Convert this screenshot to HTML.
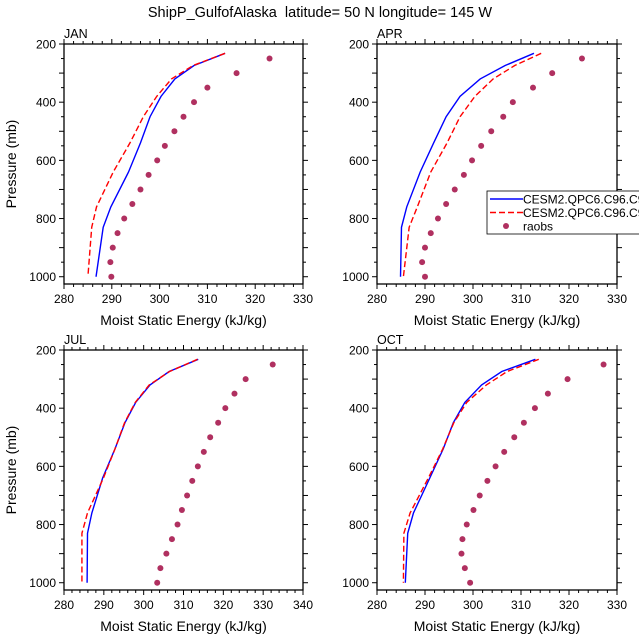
<!DOCTYPE html>
<html><head><meta charset="utf-8">
<style>
html,body{margin:0;padding:0;background:#fff;}
svg{display:block;font-family:"Liberation Sans",Arial,sans-serif;}
</style></head>
<body>
<svg id="c" width="639" height="639" viewBox="0 0 639 639">
<text x="320" y="17" text-anchor="middle" font-size="14.5" style="white-space:pre">ShipP_GulfofAlaska  latitude= 50 N longitude= 145 W</text>
</svg>
<script>
const modelP = [232, 274, 320, 380, 450, 540, 640, 760, 830, 1000];
const obsP = [250,300,350,400,450,500,550,600,650,700,750,800,850,900,950,1000];
const janBlue = [313.7,307.2,303.2,300.3,298,296,293.5,289.8,288.2,286.7];
const janRed = [313.7,307,302.5,299.4,296.6,293.8,290.3,286.8,285.8,285];
const janObs = [323,316.1,310,307.2,305,303.1,301.1,299.5,297.7,296,294.3,292.6,291.2,290.2,289.7,289.9];
const aprBlue = [312.7,306.7,301.5,297.3,294.4,291.8,289,286.2,285.1,284.9];
const aprRed = [314.2,308.7,304.2,300.4,297.3,294.6,291.2,288.4,286.7,285.5];
const aprObs = [322.7,316.5,312.5,308.3,306.3,303.8,301.7,299.8,298.1,296.2,294.4,292.7,291.2,290,289.4,290];
const julBlue = [313.7,306.4,301.6,298,295.3,292.8,289.7,287,285.9,285.8];
const julRed = [313.5,306.5,301.4,297.9,295.2,292.8,289.9,285.9,284.5,284.5];
const julObs = [332.4,325.6,322.8,320.5,318.7,316.7,315.1,313.6,312.2,310.9,309.6,308.5,307.1,305.7,304.2,303.4];
const octBlue = [313,306,301.8,298.3,295.9,293.8,291,287.6,286.4,285.9];
const octRed = [313.7,307.1,302.8,298.7,296,293.7,290.7,286.9,285.6,285.5];
const octObs = [327.2,319.7,315.6,312.9,310.6,308.6,306.5,304.7,303,301.4,300.1,298.7,297.8,297.6,298.3,299.4];
const pTicks = [200,400,600,800,1000];
const xTicks1 = [280,290,300,310,320,330];
const xTicks2 = [280,290,300,310,320,330,340];

const NS="http://www.w3.org/2000/svg";
const svg=document.getElementById('c');
function mk(tag,attrs,parent){const e=document.createElementNS(NS,tag);for(const k in attrs)e.setAttribute(k,attrs[k]);(parent||svg).appendChild(e);return e;}

const panels=[
 {name:'jan',label:'JAN',x0:64,x1:303,y0:44,y1:284,xmin:280,xmax:330,xt:xTicks1,blue:janBlue,red:janRed,obs:janObs,ylab:true},
 {name:'apr',label:'APR',x0:377,x1:617,y0:44,y1:284,xmin:280,xmax:330,xt:xTicks1,blue:aprBlue,red:aprRed,obs:aprObs,ylab:false},
 {name:'jul',label:'JUL',x0:64,x1:303,y0:350,y1:590,xmin:280,xmax:340,xt:xTicks2,blue:julBlue,red:julRed,obs:julObs,ylab:true},
 {name:'oct',label:'OCT',x0:377,x1:617,y0:350,y1:590,xmin:280,xmax:330,xt:xTicks1,blue:octBlue,red:octRed,obs:octObs,ylab:false}
];
const PMIN=200,PMAX=1025;
panels.forEach(P=>{
 const g=mk('g',{});
 
 
 const sx=v=>P.x0+(v-P.xmin)/(P.xmax-P.xmin)*(P.x1-P.x0);
 const sy=p=>P.y0+(p-PMIN)/(PMAX-PMIN)*(P.y1-P.y0);
 const tk=mk('g',{stroke:'#000','stroke-width':1},g);
 
 
 for(let v=P.xmin;v<=P.xmax;v+=2){const x=sx(v);const L=(v%10===0)?5:3;
  mk('line',{x1:x,x2:x,y1:P.y1,y2:P.y1+L},tk);mk('line',{x1:x,x2:x,y1:P.y0,y2:P.y0-L},tk);}
 for(let p=200;p<=1000;p+=50){const y=sy(p);const L=(p%100===0)?5:3;
  mk('line',{x1:P.x0,x2:P.x0-L,y1:y,y2:y},tk);mk('line',{x1:P.x1,x2:P.x1+L,y1:y,y2:y},tk);}
 const r=mk('rect',{x:P.x0,y:P.y0,width:P.x1-P.x0,height:P.y1-P.y0,fill:'none',stroke:'#000','stroke-width':1.3},g);
 
 
 P.xt.forEach(v=>{const t=mk('text',{x:sx(v),y:P.y1+19,'text-anchor':'middle','font-size':12},g);t.textContent=v;
  
  });
 pTicks.forEach(p=>{const t=mk('text',{x:P.x0-8,y:sy(p)+4.5,'text-anchor':'end','font-size':12},g);t.textContent=p;
  
  });
 const lb=mk('text',{x:P.x0,y:P.y0-6,'font-size':12.5},g);lb.textContent=P.label;
 
 
 const xt=mk('text',{x:(P.x0+P.x1)/2,y:P.y1+41,'text-anchor':'middle','font-size':14},g);xt.textContent='Moist Static Energy (kJ/kg)';
 
 
 if(P.ylab){const yt=mk('text',{x:0,y:0,'text-anchor':'middle','font-size':14,transform:`translate(16,${(P.y0+P.y1)/2}) rotate(-90)`},g);yt.textContent='Pressure (mb)';
  
  }
 const bl=mk('polyline',{points:P.blue.map((v,i)=>sx(v)+','+sy(modelP[i])).join(' '),fill:'none',stroke:'#0000ff','stroke-width':1.4},g);
 
 
 const rd=mk('polyline',{points:P.red.map((v,i)=>sx(v)+','+sy(modelP[i])).join(' '),fill:'none',stroke:'#ff0000','stroke-width':1.4,'stroke-dasharray':'6,3'},g);
 
 
 P.obs.forEach((v,i)=>{const c=mk('circle',{cx:sx(v),cy:sy(obsP[i]),r:3,fill:'#b03060'},g);
  
  });
});
const lg=mk('g',{});


mk('rect',{x:487,y:191,width:160,height:43,fill:'#fff',stroke:'#000','stroke-width':0.8},lg);
mk('line',{x1:490,x2:523,y1:199,y2:199,stroke:'#0000ff','stroke-width':1.4},lg);
mk('line',{x1:490,x2:523,y1:212.5,y2:212.5,stroke:'#ff0000','stroke-width':1.4,'stroke-dasharray':'6,3'},lg);
mk('circle',{cx:506,cy:226,r:3,fill:'#b03060'},lg);
[['CESM2.QPC6.C96.C96',203.5,'legend-entry-blue'],['CESM2.QPC6.C96.C96',217,'legend-entry-red'],['raobs',230.5,'legend-entry-raobs']].forEach(a=>{
 const t=mk('text',{x:523,y:a[1],'font-size':12},lg);t.textContent=a[0];
 
 });
</script>
</body></html>
